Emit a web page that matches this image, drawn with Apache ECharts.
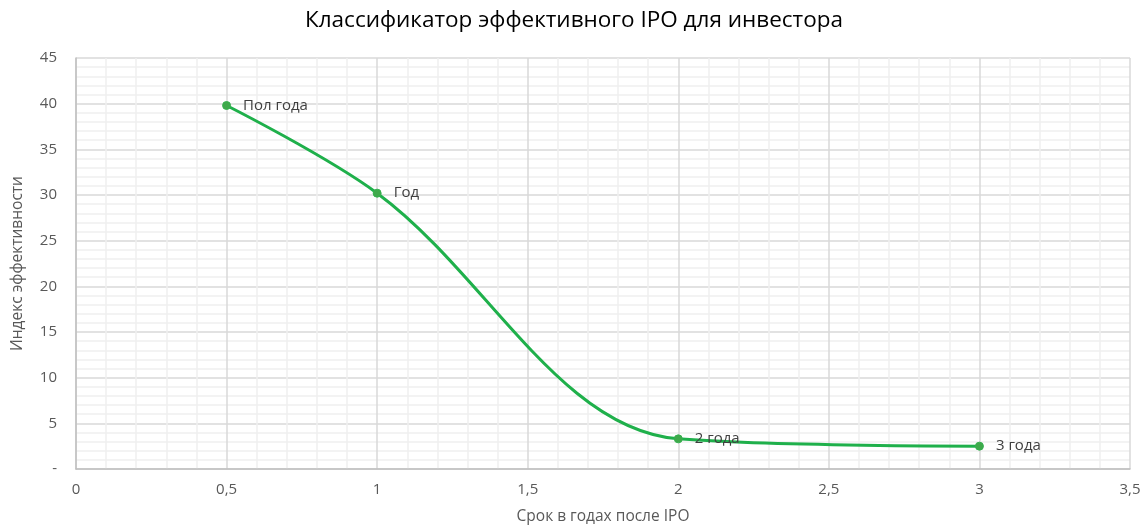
<!DOCTYPE html>
<html><head><meta charset="utf-8">
<script src="https://cdn.jsdelivr.net/npm/echarts@6/dist/echarts.min.js"></script>
<style>html,body{margin:0;padding:0;background:#fff}#c{width:1148px;height:528px}</style>
</head><body><div id="c"></div>
<script>
const titleText = 'Классификатор эффективного IPO для инвестора';
const xAxisName = 'Срок в годах после IPO';
const yAxisName = 'Индекс эффективности';
const years = [0.5, 1, 2, 3];
const index = [39.8, 30.2, 3.3, 2.5];
const pointLabels = ['Пол года', 'Год', '2 года', '3 года'];

const chart = echarts.init(document.getElementById('c'));
const font = '"Open Sans", "Noto Sans", sans-serif';
chart.setOption({
  animation: false,
  textStyle: { fontFamily: font },
  title: { text: titleText, left: 'center', top: 4,
    textStyle: { fontFamily: font, fontSize: 22.5, fontWeight: 'normal', color: '#000' } },
  grid: { left: 76, right: 18, top: 58, bottom: 59, containLabel: false, outerBoundsMode: 'none' },
  xAxis: {
    type: 'value', min: 0, max: 3.5, interval: 0.5,
    name: xAxisName, nameLocation: 'middle', nameGap: 40,
    nameTextStyle: { fontSize: 15.5, color: '#595959' },
    axisLine: { show: true, lineStyle: { color: '#bfbfbf', width: 1.5 } },
    axisTick: { show: false },
    axisLabel: { fontSize: 15, color: '#595959', margin: 13,
      formatter: v => String(v).replace('.', ',') },
    splitLine: { show: true, lineStyle: { color: '#d9d9d9', width: 1.5 } },
    minorTick: { show: false, splitNumber: 5 },
    minorSplitLine: { show: true, lineStyle: { color: '#efefef', width: 1.5 } }
  },
  yAxis: {
    type: 'value', min: 0, max: 45, interval: 5,
    name: yAxisName, nameLocation: 'middle', nameGap: 50, nameRotate: 90,
    nameTextStyle: { fontSize: 15.5, color: '#595959' },
    axisLine: { show: true, lineStyle: { color: '#bfbfbf', width: 1.5 } },
    axisTick: { show: false },
    axisLabel: { fontSize: 15, color: '#595959', margin: 19,
      formatter: v => v === 0 ? '-' : String(v) },
    splitLine: { show: true, lineStyle: { color: '#d9d9d9', width: 1.5 } },
    minorTick: { show: false, splitNumber: 5 },
    minorSplitLine: { show: true, lineStyle: { color: '#efefef', width: 1.5 } }
  },
  series: [{
    type: 'line', smooth: 0.35,
    data: years.map((x, i) => [x, index[i]]),
    symbol: 'circle', symbolSize: 8,
    lineStyle: { color: '#1fb04b', width: 3 },
    itemStyle: { color: '#3fa94b', borderColor: '#35b04e', borderWidth: 1 },
    label: { show: true, position: 'right', distance: 12,
      fontSize: 15, color: '#404040', fontFamily: font,
      formatter: p => pointLabels[p.dataIndex] }
  }]
});
</script></body></html>
